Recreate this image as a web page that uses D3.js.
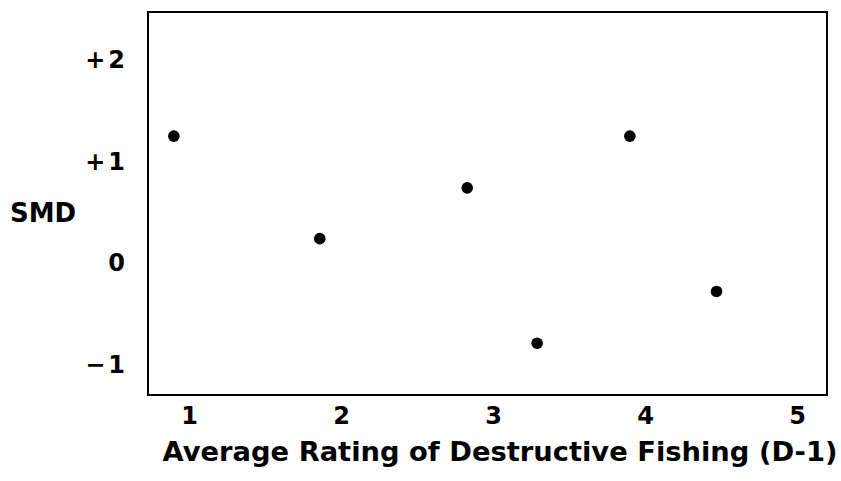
<!DOCTYPE html>
<html><head><meta charset="utf-8">
<script src="https://cdn.jsdelivr.net/npm/d3@7"></script>
<style>body{margin:0;background:#fff}svg{display:block}text{font-family:"DejaVu Sans",Verdana,sans-serif;font-weight:bold;fill:#000}</style>
</head><body>
<script>
const ratings = [0.9, 1.86, 2.83, 3.29, 3.9, 4.47];
const smd = [1.25, 0.24, 0.74, -0.79, 1.25, -0.28];
const xTicks = [1, 2, 3, 4, 5];
const yTicks = [-1, 0, 1, 2];
const xTitle = "Average Rating of Destructive Fishing (D-1)";
const yTitle = "SMD";

const W = 841, H = 481;
const L = 148, R = 827, T = 12, B = 395;
const svg = d3.select("body").append("svg").attr("width", W).attr("height", H);
const x = d3.scaleLinear().domain([0.73, 5.197]).range([L, R]);
const y = d3.scaleLinear().domain([-1.30, 2.473]).range([B, T]);

const gx = svg.append("g").attr("transform", `translate(0,${B})`)
  .call(d3.axisBottom(x).tickValues(xTicks).tickSize(0).tickPadding(12).tickFormat(d3.format("d")));
gx.select(".domain").remove();
gx.selectAll("text").style("font-size", "24px").attr("font-family", null);

const gy = svg.append("g").attr("transform", `translate(${L},0)`)
  .call(d3.axisLeft(y).tickValues(yTicks).tickSize(0).tickPadding(20)
    .tickFormat(d => d > 0 ? "+" + d : d < 0 ? "\u2212" + Math.abs(d) : "0"));
gy.select(".domain").remove();
gy.selectAll("text").style("font-size", "24px").style("letter-spacing", "3px").attr("font-family", null);

svg.append("rect").attr("x", L).attr("y", T).attr("width", R - L).attr("height", B - T)
  .attr("fill", "none").attr("stroke", "#000").attr("stroke-width", 2);

svg.append("g").selectAll("circle").data(ratings).join("circle")
  .attr("cx", d => x(d)).attr("cy", (d, i) => y(smd[i])).attr("r", 5.8).attr("fill", "#000");

svg.append("text").attr("x", 10).attr("y", 222).style("font-size", "26px").text(yTitle);
const t = svg.append("text").attr("x", 500).attr("y", 461).attr("text-anchor", "middle").style("font-size", "22px").text(xTitle);
const len = t.node().getComputedTextLength();
t.style("font-size", (22 * 675 / len).toFixed(2) + "px");
</script>
</body></html>
